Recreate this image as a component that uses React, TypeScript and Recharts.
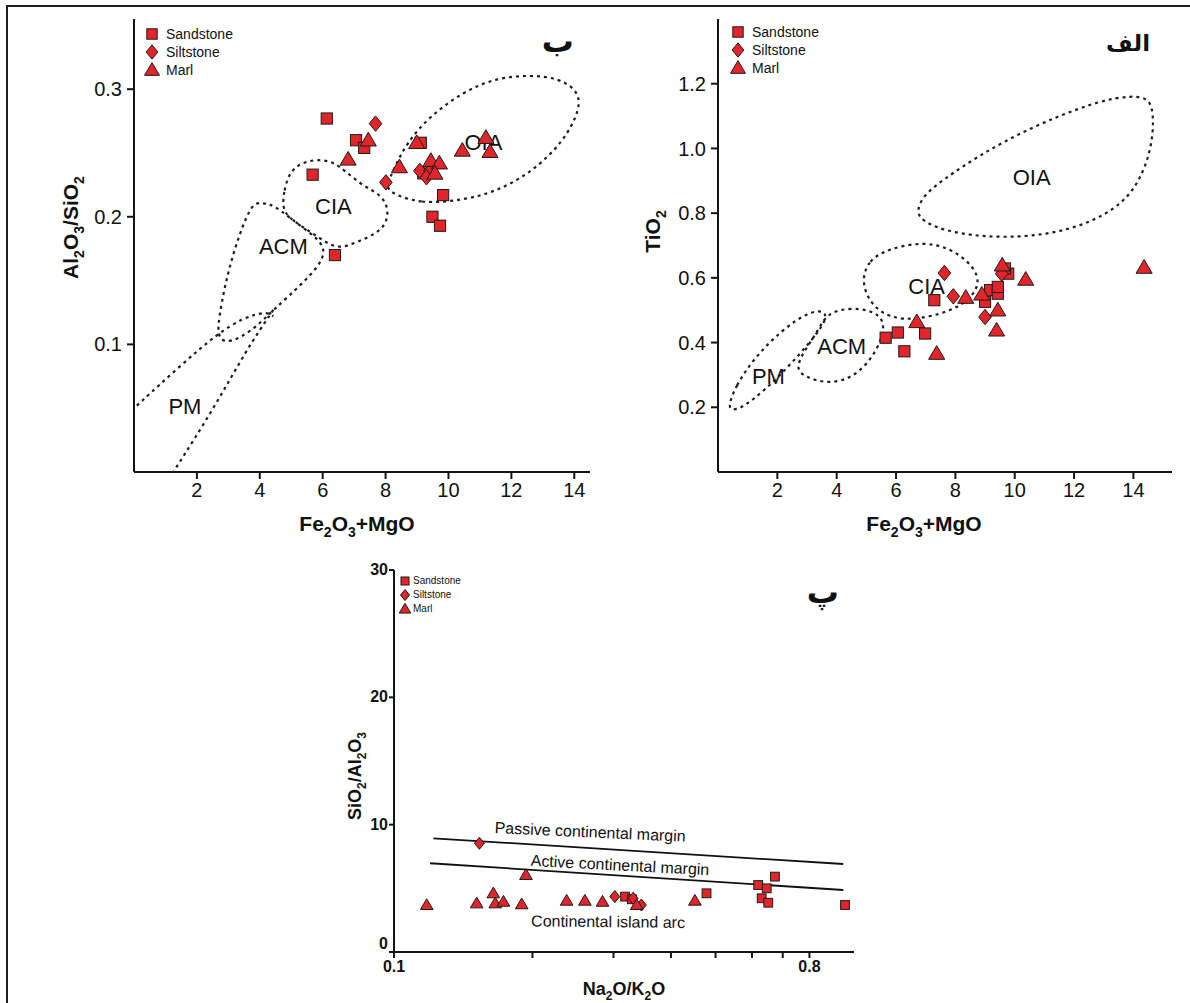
import React from 'react';
import { ScatterChart, Scatter, XAxis, YAxis, Legend } from 'recharts';

const FONT = '"Liberation Sans", Arial, Helvetica, sans-serif';
const TAG_FONT = '"DejaVu Sans", sans-serif';
const RED = '#E2252B';
const EDGE = '#1b1b1b';
const INK = '#111111';
const DASH = { stroke: '#1e1e1e', strokeWidth: 2.2, strokeDasharray: '3 4', fill: 'none' };

type Pt = { x: number; y: number };
type Tx = { x: number; y: number; text: string };
const pts = (a: number[][]): Pt[] => a.map(([x, y]) => ({ x, y }));

// ---------- Panel ب : Fe2O3+MgO vs Al2O3/SiO2 ----------
const sandstoneB = pts([[6.13, 0.277], [7.06, 0.26], [7.32, 0.254], [5.68, 0.233], [6.39, 0.17], [9.12, 0.258], [9.2, 0.234], [9.83, 0.217], [9.49, 0.2], [9.73, 0.193]]);
const siltstoneB = pts([[7.68, 0.273], [8.01, 0.227], [9.09, 0.236], [9.41, 0.236], [9.3, 0.231]]);
const marlB = pts([[6.81, 0.245], [7.45, 0.26], [8.44, 0.239], [8.99, 0.258], [9.44, 0.244], [9.71, 0.242], [9.57, 0.234], [10.44, 0.252], [11.19, 0.262], [11.32, 0.251]]);
const oiaB = pts([[8.14, 0.219], [9.09, 0.21], [10.47, 0.213], [11.53, 0.22], [12.59, 0.234], [13.65, 0.258], [14.23, 0.286], [14.08, 0.3], [13.44, 0.309], [12.59, 0.311], [11.53, 0.309], [10.47, 0.298], [9.41, 0.279], [8.67, 0.258], [8.25, 0.237], [8.03, 0.224]]);
const ciaB = pts([[4.7, 0.204], [4.77, 0.221], [4.96, 0.236], [5.38, 0.243], [5.86, 0.245], [6.34, 0.243], [6.71, 0.236], [7.29, 0.224], [7.88, 0.217], [8.09, 0.206], [8.03, 0.195], [7.72, 0.187], [7.08, 0.18], [6.45, 0.174], [5.81, 0.185], [5.17, 0.195]]);
const acmB = pts([[3.98, 0.211], [4.32, 0.21], [4.62, 0.206], [5.38, 0.191], [6.34, 0.174], [5.38, 0.148], [4.43, 0.127], [3.9, 0.114], [3.37, 0.105], [2.89, 0.101], [2.65, 0.107], [2.71, 0.122], [2.89, 0.146], [3.16, 0.172], [3.53, 0.198], [3.79, 0.21]]);
const pmUpperB = pts([[0.09, 0.052], [1.46, 0.083], [2.63, 0.108], [3.48, 0.121], [4.22, 0.126], [4.43, 0.122]]);
const pmLowerB = pts([[4.43, 0.127], [3.58, 0.096], [2.52, 0.049], [1.25, 0.0]]);
const fieldNamesB: Tx[] = [{ x: 11.11, y: 0.258, text: 'OIA' }, { x: 6.34, y: 0.208, text: 'CIA' }, { x: 4.75, y: 0.177, text: 'ACM' }, { x: 1.62, y: 0.051, text: 'PM' }];
const panelTagB: Tx[] = [{ x: 13.48, y: 0.338, text: 'ب' }];
const xTicksFe = [2, 4, 6, 8, 10, 12, 14];
const yTicksB = [0.1, 0.2, 0.3];

// ---------- Panel الف : Fe2O3+MgO vs TiO2 ----------
const sandstoneA = pts([[7.29, 0.531], [5.65, 0.415], [6.06, 0.431], [6.98, 0.428], [6.28, 0.373], [9.0, 0.526], [9.17, 0.562], [9.43, 0.551], [9.43, 0.572], [9.78, 0.613], [9.67, 0.629]]);
const siltstoneA = pts([[7.63, 0.615], [7.93, 0.543], [9.0, 0.479], [9.56, 0.613]]);
const marlA = pts([[6.7, 0.464], [7.37, 0.366], [8.35, 0.539], [8.89, 0.549], [9.43, 0.5], [9.39, 0.438], [9.58, 0.639], [10.37, 0.595], [14.36, 0.632]]);
const oiaA = pts([[6.7, 0.803], [6.87, 0.85], [7.54, 0.901], [8.89, 0.984], [10.57, 1.066], [12.26, 1.128], [13.38, 1.158], [14.39, 1.164], [14.67, 1.128], [14.67, 1.035], [14.39, 0.932], [13.72, 0.829], [12.26, 0.757], [10.57, 0.726], [8.89, 0.726], [7.54, 0.747], [6.87, 0.778]]);
const ciaA = pts([[4.84, 0.593], [5.07, 0.654], [5.74, 0.69], [6.87, 0.711], [7.76, 0.695], [8.55, 0.644], [8.89, 0.582], [8.32, 0.515], [7.2, 0.479], [6.19, 0.469], [5.52, 0.49], [5.07, 0.531]]);
const acmA = pts([[3.66, 0.49], [4.39, 0.508], [5.18, 0.5], [5.63, 0.469], [5.52, 0.407], [5.07, 0.335], [4.39, 0.284], [3.61, 0.274], [2.93, 0.294], [2.6, 0.32], [2.93, 0.377], [3.38, 0.438]]);
const pmA = pts([[0.35, 0.202], [0.57, 0.263], [1.25, 0.356], [2.15, 0.438], [3.04, 0.495], [3.61, 0.5], [3.66, 0.469], [3.16, 0.407], [2.37, 0.325], [1.58, 0.253], [0.8, 0.197], [0.46, 0.191]]);
const fieldNamesA: Tx[] = [{ x: 10.57, y: 0.911, text: 'OIA' }, { x: 7.03, y: 0.572, text: 'CIA' }, { x: 4.17, y: 0.387, text: 'ACM' }, { x: 1.7, y: 0.294, text: 'PM' }];
const panelTagA: Tx[] = [{ x: 13.82, y: 1.327, text: 'الف' }];
const yTicksA = [0.2, 0.4, 0.6, 0.8, 1.0, 1.2];

// ---------- Panel پ : Na2O/K2O vs SiO2/Al2O3 ----------
const sandstoneP = pts([[0.318, 4.35], [0.329, 4.14], [0.478, 4.61], [0.619, 5.26], [0.646, 5.0], [0.673, 5.92], [0.63, 4.22], [0.651, 3.87], [0.956, 3.69]]);
const siltstoneP = pts([[0.1533, 8.54], [0.302, 4.35], [0.331, 4.22], [0.345, 3.69]]);
const marlP = pts([[0.1178, 3.69], [0.1513, 3.82], [0.1644, 4.61], [0.166, 3.82], [0.173, 3.95], [0.1895, 3.75], [0.1936, 6.05], [0.2373, 4.03], [0.26, 4.03], [0.284, 3.95], [0.337, 3.69], [0.451, 4.03]]);
const passiveLine = pts([[0.1218, 8.93], [0.948, 6.91]]);
const activeLine = pts([[0.1198, 6.97], [0.948, 4.87]]);
const zoneNamesP: Tx[] = [
  { x: 0.267, y: 9.43, text: 'Passive continental margin' },
  { x: 0.31, y: 6.83, text: 'Active continental margin' },
  { x: 0.292, y: 2.38, text: 'Continental island arc' },
];
const panelTagP: Tx[] = [{ x: 0.856, y: 28.3, text: 'پ' }];
const xTicksP = [0.1, 0.2, 0.3, 0.4, 0.5, 0.6, 0.7, 0.8];
const xLabelsP = [0.1, 0.8];
const yTicksP = [0, 10, 20, 30];
const ZONE_TILT: Record<string, number> = {
  'Passive continental margin': 2.6,
  'Active continental margin': 3,
  'Continental island arc': 0.6,
};

const ROCKS = ['Sandstone', 'Siltstone', 'Marl'];

// ---------- titles ----------
type Part = [string, boolean];
const FE_TITLE: Part[] = [['Fe', false], ['2', true], ['O', false], ['3', true], ['+MgO', false]];
const AL_SI_TITLE: Part[] = [['Al', false], ['2', true], ['O', false], ['3', true], ['/SiO', false], ['2', true]];
const TIO2_TITLE: Part[] = [['TiO', false], ['2', true]];
const SI_AL_TITLE: Part[] = [['SiO', false], ['2', true], ['/Al', false], ['2', true], ['O', false], ['3', true]];
const NA_K_TITLE: Part[] = [['Na', false], ['2', true], ['O/K', false], ['2', true], ['O', false]];

function chem(parts: Part[], size: number) {
  const shift = Math.round(size * 0.28);
  const subSize = Math.round(size * 0.66);
  let down = false;
  return parts.map(([t, s], i) => {
    let dy = 0;
    if (s && !down) { dy = shift; down = true; }
    else if (!s && down) { dy = -shift; down = false; }
    return (
      <tspan key={i} dy={dy} fontSize={s ? subSize : size}>{t}</tspan>
    );
  });
}

const XTitle = (props: any) => {
  const { viewBox, parts, size, dx = 0, dy = 0 } = props;
  if (!viewBox) return null;
  const cx = viewBox.x + viewBox.width / 2 + dx;
  return (
    <text x={cx} y={viewBox.y + dy} textAnchor="middle" fontFamily={FONT} fontWeight="bold" fontSize={size} fill={INK}>
      {chem(parts, size)}
    </text>
  );
};

const YTitle = (props: any) => {
  const { viewBox, parts, size, left = 0, dy = 0 } = props;
  if (!viewBox) return null;
  const x0 = viewBox.x + left;
  const y0 = viewBox.y + viewBox.height / 2 + dy;
  return (
    <text x={x0} y={y0} transform={`rotate(-90, ${x0}, ${y0})`} textAnchor="middle" fontFamily={FONT} fontWeight="bold" fontSize={size} fill={INK}>
      {chem(parts, size)}
    </text>
  );
};

// y tick for panel پ: the zero label sits a little higher, clear of the x label below it
const YTickP = (props: any) => {
  const { x, y, payload } = props;
  const v = payload ? payload.value : '';
  return (
    <text x={x} y={y} dy={v === 0 ? -3 : 5} textAnchor="end" fontFamily={FONT} fontWeight="bold" fontSize={16} fill={INK}>
      {v}
    </text>
  );
};

// ---------- markers ----------
const drawSquare = (cx: number, cy: number, s: number) => (
  <rect x={cx - s / 2} y={cy - s / 2} width={s} height={s} fill={RED} stroke={EDGE} strokeWidth={1} />
);
const drawDiamond = (cx: number, cy: number, s: number) => {
  const w = s * 0.45;
  const h = s * 0.55;
  return <polygon points={`${cx},${cy - h} ${cx + w},${cy} ${cx},${cy + h} ${cx - w},${cy}`} fill={RED} stroke={EDGE} strokeWidth={1} />;
};
const drawTriangle = (cx: number, cy: number, s: number) => {
  const h = s * 0.85;
  return <polygon points={`${cx},${cy - h * 0.58} ${cx + s / 2},${cy + h * 0.42} ${cx - s / 2},${cy + h * 0.42}`} fill={RED} stroke={EDGE} strokeWidth={1} />;
};
const ICONS: Record<string, (cx: number, cy: number, s: number) => React.ReactElement> = {
  Sandstone: drawSquare,
  Siltstone: drawDiamond,
  Marl: drawTriangle,
};
const ICON_SCALE: Record<string, number> = { Sandstone: 0.8, Siltstone: 1, Marl: 1.15 };

const markerShape = (kind: string, s: number) => (p: any) => ICONS[kind](p.cx, p.cy, s * ICON_SCALE[kind]);
const noShape = () => <g />;
const textShape = (size: number, bold = false, family = FONT) => (p: any) => (
  <text x={p.cx} y={p.cy} textAnchor="middle" dominantBaseline="central" fontFamily={family} fontWeight={bold ? 'bold' : 'normal'} fontSize={size} fill={INK}>
    {p.payload && p.payload.text}
  </text>
);
const tiltedTextShape = (size: number) => (p: any) => {
  const t = p.payload ? p.payload.text : '';
  const a = ZONE_TILT[t] || 0;
  return (
    <text x={p.cx} y={p.cy} transform={`rotate(${a}, ${p.cx}, ${p.cy})`} textAnchor="middle" dominantBaseline="central" fontFamily={FONT} fontSize={size} fill={INK}>
      {t}
    </text>
  );
};

const makeLegend = (box: number, icon: number, font: number, rowH: number, gap: number) => (props: any) => {
  const items = (props.payload || [])
    .filter((e: any) => ICONS[e.value])
    .sort((a: any, b: any) => ROCKS.indexOf(a.value) - ROCKS.indexOf(b.value));
  return (
    <div style={{ fontFamily: FONT, fontSize: font, color: INK, lineHeight: 1 }}>
      {items.map((e: any) => (
        <div key={e.value} style={{ display: 'flex', alignItems: 'center', height: rowH }}>
          <svg width={box} height={box} style={{ display: 'block', overflow: 'visible' }}>
            {ICONS[e.value](box / 2, box / 2, icon * ICON_SCALE[e.value])}
          </svg>
          <span style={{ marginLeft: gap, whiteSpace: 'nowrap' }}>{e.value}</span>
        </div>
      ))}
    </div>
  );
};

const AXIS = { stroke: '#141414', strokeWidth: 2 };
const TICK = { fontSize: 20, fill: INK, fontFamily: FONT };
const TICK_BOLD = { fontSize: 16, fill: INK, fontFamily: FONT, fontWeight: 'bold' };

function PanelB() {
  const xd: [number, number] = [0, 14.5];
  const yd: [number, number] = [0, 0.355];
  return (
    <ScatterChart width={600} height={560} margin={{ top: 19, right: 30, bottom: 38, left: 54 }}>
      <XAxis type="number" dataKey="x" domain={xd} ticks={xTicksFe} allowDataOverflow height={50} tick={TICK} tickSize={7} tickMargin={4} axisLine={AXIS} tickLine={AXIS}
        label={<XTitle parts={FE_TITLE} size={21} dx={-5} dy={59} />} />
      <YAxis type="number" dataKey="y" domain={yd} ticks={yTicksB} allowDataOverflow width={60} tick={TICK} tickSize={7} tickMargin={5} axisLine={AXIS} tickLine={AXIS}
        tickFormatter={(v: number) => v.toFixed(1)} label={<YTitle parts={AL_SI_TITLE} size={21} left={4} dy={-18} />} />
      <XAxis xAxisId="top" orientation="top" type="number" domain={xd} allowDataOverflow height={0} tick={false} tickLine={false} axisLine={AXIS} />
      <YAxis yAxisId="right" orientation="right" type="number" domain={yd} allowDataOverflow width={0} tick={false} tickLine={false} axisLine={AXIS} />
      <Scatter data={oiaB} shape={noShape} line={DASH} lineType="joint" lineJointType="basisClosed" legendType="none" isAnimationActive={false} />
      <Scatter data={ciaB} shape={noShape} line={DASH} lineType="joint" lineJointType="basisClosed" legendType="none" isAnimationActive={false} />
      <Scatter data={acmB} shape={noShape} line={DASH} lineType="joint" lineJointType="basisClosed" legendType="none" isAnimationActive={false} />
      <Scatter data={pmUpperB} shape={noShape} line={DASH} lineType="joint" lineJointType="basis" legendType="none" isAnimationActive={false} />
      <Scatter data={pmLowerB} shape={noShape} line={DASH} lineType="joint" lineJointType="basis" legendType="none" isAnimationActive={false} />
      <Scatter data={fieldNamesB} shape={textShape(22)} legendType="none" isAnimationActive={false} />
      <Scatter data={panelTagB} shape={textShape(32, true, TAG_FONT)} legendType="none" isAnimationActive={false} />
      <Scatter name="Sandstone" data={sandstoneB} fill={RED} shape={markerShape('Sandstone', 14)} isAnimationActive={false} />
      <Scatter name="Siltstone" data={siltstoneB} fill={RED} shape={markerShape('Siltstone', 14)} isAnimationActive={false} />
      <Scatter name="Marl" data={marlB} fill={RED} shape={markerShape('Marl', 14)} isAnimationActive={false} />
      <Legend layout="vertical" align="center" verticalAlign="middle" content={makeLegend(16, 13, 14, 18, 6)}
        wrapperStyle={{ left: 124, top: 25, width: 'auto', height: 'auto' }} />
    </ScatterChart>
  );
}

function PanelA() {
  const xd: [number, number] = [0, 15.3];
  const yd: [number, number] = [0, 1.4];
  return (
    <ScatterChart width={560} height={560} margin={{ top: 19, right: 18, bottom: 38, left: 28 }}>
      <XAxis type="number" dataKey="x" domain={xd} ticks={xTicksFe} allowDataOverflow height={50} tick={TICK} tickSize={7} tickMargin={4} axisLine={AXIS} tickLine={AXIS}
        label={<XTitle parts={FE_TITLE} size={21} dx={-21} dy={59} />} />
      <YAxis type="number" dataKey="y" domain={yd} ticks={yTicksA} allowDataOverflow width={60} tick={TICK} tickSize={7} tickMargin={5} axisLine={AXIS} tickLine={AXIS}
        tickFormatter={(v: number) => v.toFixed(1)} label={<YTitle parts={TIO2_TITLE} size={21} left={2} dy={-14} />} />
      <XAxis xAxisId="top" orientation="top" type="number" domain={xd} allowDataOverflow height={0} tick={false} tickLine={false} axisLine={AXIS} />
      <YAxis yAxisId="right" orientation="right" type="number" domain={yd} allowDataOverflow width={0} tick={false} tickLine={false} axisLine={AXIS} />
      <Scatter data={oiaA} shape={noShape} line={DASH} lineType="joint" lineJointType="basisClosed" legendType="none" isAnimationActive={false} />
      <Scatter data={ciaA} shape={noShape} line={DASH} lineType="joint" lineJointType="basisClosed" legendType="none" isAnimationActive={false} />
      <Scatter data={acmA} shape={noShape} line={DASH} lineType="joint" lineJointType="basisClosed" legendType="none" isAnimationActive={false} />
      <Scatter data={pmA} shape={noShape} line={DASH} lineType="joint" lineJointType="basisClosed" legendType="none" isAnimationActive={false} />
      <Scatter data={fieldNamesA} shape={textShape(22)} legendType="none" isAnimationActive={false} />
      <Scatter data={panelTagA} shape={textShape(23, true, TAG_FONT)} legendType="none" isAnimationActive={false} />
      <Scatter name="Sandstone" data={sandstoneA} fill={RED} shape={markerShape('Sandstone', 14)} isAnimationActive={false} />
      <Scatter name="Siltstone" data={siltstoneA} fill={RED} shape={markerShape('Siltstone', 14)} isAnimationActive={false} />
      <Scatter name="Marl" data={marlA} fill={RED} shape={markerShape('Marl', 14)} isAnimationActive={false} />
      <Legend layout="vertical" align="center" verticalAlign="middle" content={makeLegend(16, 13, 14, 18, 6)}
        wrapperStyle={{ left: 100, top: 23, width: 'auto', height: 'auto' }} />
    </ScatterChart>
  );
}

function PanelP() {
  const xd: [number, number] = [0.1, 1.0];
  const yd: [number, number] = [0, 30];
  return (
    <ScatterChart width={600} height={448} margin={{ top: 15, right: 46, bottom: 11, left: 44 }}>
      <XAxis type="number" dataKey="x" scale="log" domain={xd} ticks={xTicksP} allowDataOverflow height={40} tick={TICK_BOLD} tickSize={6} tickMargin={3} axisLine={AXIS} tickLine={AXIS}
        tickFormatter={(v: number) => (xLabelsP.some((l) => Math.abs(l - v) < 1e-9) ? String(v) : '')}
        label={<XTitle parts={NA_K_TITLE} size={18} dx={0} dy={43} />} />
      <YAxis type="number" dataKey="y" domain={yd} ticks={yTicksP} allowDataOverflow width={50} tick={<YTickP />} tickSize={5} tickMargin={1} axisLine={AXIS} tickLine={AXIS}
        label={<YTitle parts={SI_AL_TITLE} size={18} left={17} dy={15} />} />
      <XAxis xAxisId="top" orientation="top" type="number" scale="log" domain={xd} allowDataOverflow height={0} tick={false} tickLine={false} axisLine={AXIS} />
      <YAxis yAxisId="right" orientation="right" type="number" domain={yd} allowDataOverflow width={0} tick={false} tickLine={false} axisLine={AXIS} />
      <Scatter data={passiveLine} shape={noShape} line={{ stroke: '#111', strokeWidth: 1.8 }} lineType="joint" legendType="none" isAnimationActive={false} />
      <Scatter data={activeLine} shape={noShape} line={{ stroke: '#111', strokeWidth: 1.8 }} lineType="joint" legendType="none" isAnimationActive={false} />
      <Scatter data={zoneNamesP} shape={tiltedTextShape(16)} legendType="none" isAnimationActive={false} />
      <Scatter data={panelTagP} shape={textShape(32, true, TAG_FONT)} legendType="none" isAnimationActive={false} />
      <Scatter name="Sandstone" data={sandstoneP} fill={RED} shape={markerShape('Sandstone', 11)} isAnimationActive={false} />
      <Scatter name="Siltstone" data={siltstoneP} fill={RED} shape={markerShape('Siltstone', 11)} isAnimationActive={false} />
      <Scatter name="Marl" data={marlP} fill={RED} shape={markerShape('Marl', 11)} isAnimationActive={false} />
      <Legend layout="vertical" align="center" verticalAlign="middle" content={makeLegend(12, 10, 10, 14, 2)}
        wrapperStyle={{ left: 99, top: 19, width: 'auto', height: 'auto' }} />
    </ScatterChart>
  );
}

export default function App() {
  return (
    <div style={{ position: 'absolute', left: 0, top: 0, width: 1190, height: 1003, background: '#ffffff', overflow: 'hidden' }}>
      <div style={{ position: 'absolute', left: 6, top: 5, width: 1184, height: 2, background: '#1e1e1e' }} />
      <div style={{ position: 'absolute', left: 6, top: 5, width: 2, height: 998, background: '#1e1e1e' }} />
      <div style={{ position: 'absolute', left: 20, top: 0 }}>
        <PanelB />
      </div>
      <div style={{ position: 'absolute', left: 630, top: 0 }}>
        <PanelA />
      </div>
      <div style={{ position: 'absolute', left: 300, top: 555 }}>
        <PanelP />
      </div>
    </div>
  );
}
